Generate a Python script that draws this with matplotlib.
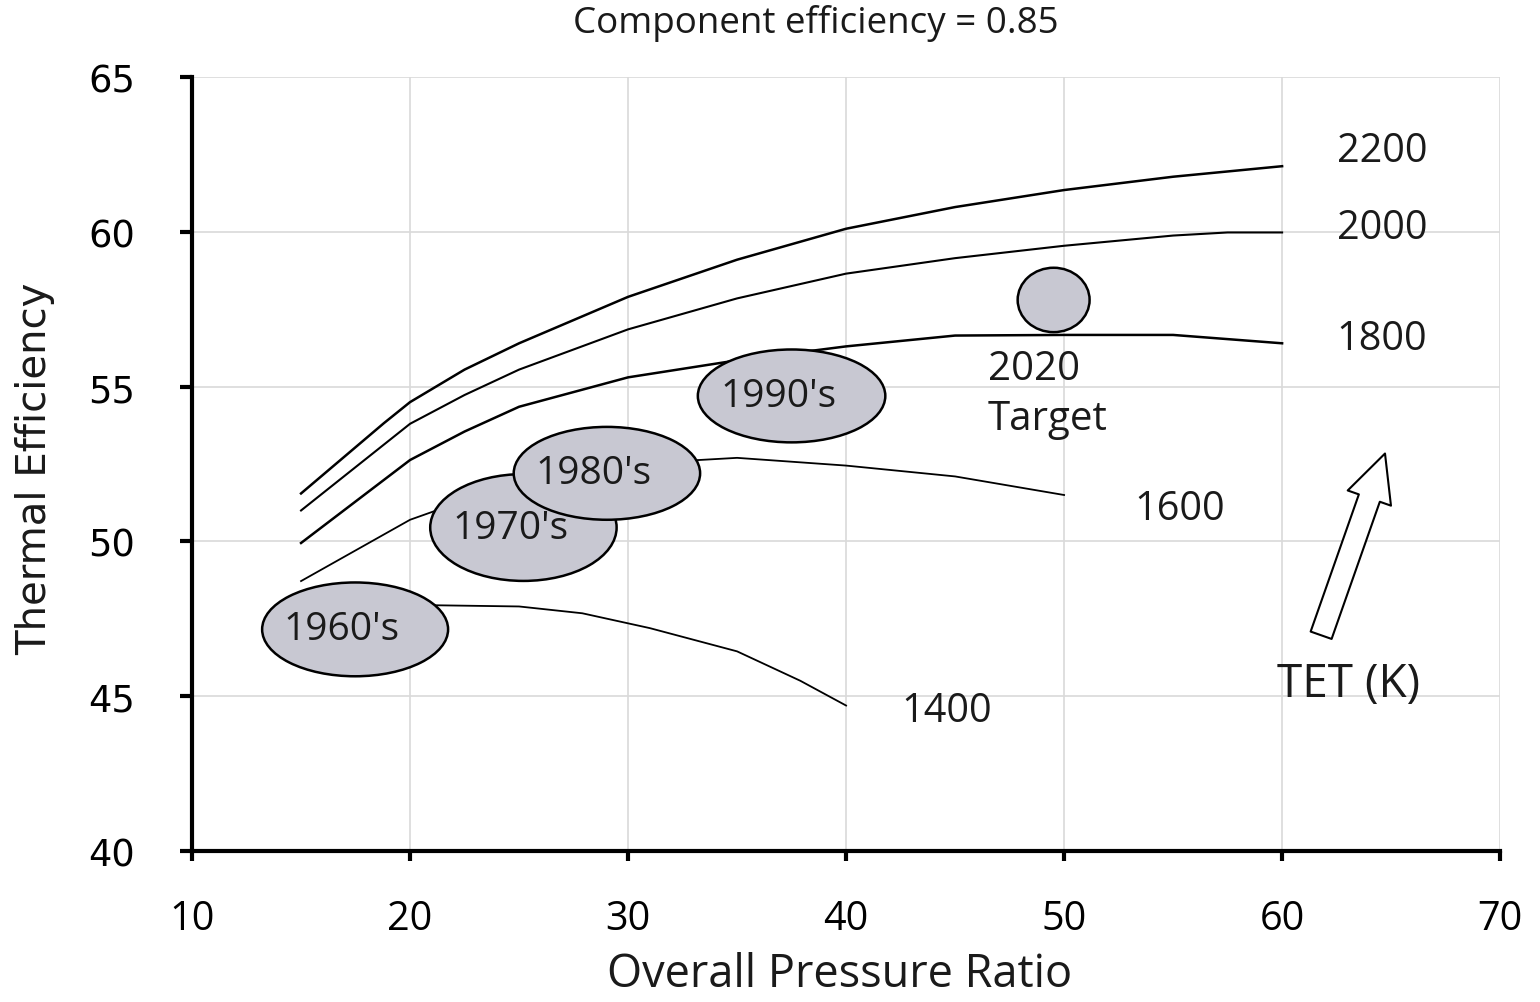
import matplotlib
matplotlib.use("Agg")
import matplotlib.pyplot as plt
from matplotlib.patches import Ellipse, ArrowStyle

plt.rcParams['font.family'] = ['Open Sans', 'DejaVu Sans']

# TET curves: overall pressure ratio vs thermal efficiency (%)
opr_2200 = [15, 18.8, 20, 22.5, 25, 30, 35, 40, 45, 50, 55, 60]
eff_2200 = [51.55, 53.82, 54.5, 55.55, 56.4, 57.9, 59.1, 60.1, 60.8, 61.35, 61.78, 62.12]

opr_2000 = [15, 20, 22.5, 25, 30, 35, 40, 45, 50, 55, 57.5, 60]
eff_2000 = [51.0, 53.8, 54.73, 55.55, 56.85, 57.85, 58.65, 59.15, 59.55, 59.88, 59.98, 59.98]

opr_1800 = [15, 20, 22.5, 25, 30, 35, 40, 45, 50, 55, 60]
eff_1800 = [49.95, 52.63, 53.55, 54.35, 55.3, 55.85, 56.3, 56.65, 56.67, 56.67, 56.4]

opr_1600 = [15, 20, 25, 30, 35, 40, 45, 50]
eff_1600 = [48.72, 50.7, 51.95, 52.5, 52.7, 52.45, 52.1, 51.5]

opr_1400 = [15, 20, 25, 27.9, 31, 35, 37.9, 40]
eff_1400 = [47.4, 47.95, 47.9, 47.68, 47.2, 46.45, 45.5, 44.7]

tet_labels = ["2200", "2000", "1800", "1600", "1400"]

# technology eras (ellipse centre, width, height)
era_labels = ["1960's", "1970's", "1980's", "1990's"]
era_x = [17.48, 25.2, 29.03, 37.5]
era_y = [47.16, 50.45, 52.2, 54.7]
era_w = [8.53, 8.55, 8.55, 8.6]
era_h = [3.03, 3.45, 3.0, 3.0]

target_x, target_y = 49.52, 57.8
target_w, target_h = 3.3, 2.08

fig = plt.figure(figsize=(15.4, 10.03), dpi=100)
ax = fig.add_axes([0.1247, 0.1505, 0.8494, 0.7717])

curves = [(opr_2200, eff_2200, 1.8), (opr_2000, eff_2000, 1.5),
          (opr_1800, eff_1800, 1.8), (opr_1600, eff_1600, 1.3),
          (opr_1400, eff_1400, 1.3)]
for x, y, lw in curves:
    ax.plot(x, y, color='black', lw=lw, zorder=2, solid_joinstyle='round')

face = '#c8c8d2'
for lab, cx, cy, w, h in zip(era_labels, era_x, era_y, era_w, era_h):
    ax.add_patch(Ellipse((cx, cy), w, h, facecolor=face, edgecolor='black',
                         lw=1.8, zorder=3))
    ax.text(cx - 0.6, cy, lab, fontsize=28, ha='center', va='center',
            color='#1a1a1a', zorder=4)

ax.add_patch(Ellipse((target_x, target_y), target_w, target_h, facecolor=face,
                     edgecolor='black', lw=1.8, zorder=3))
ax.text(46.5, 55.58, "2020", fontsize=29, ha='left', va='center', color='#1a1a1a')
ax.text(46.5, 53.97, "Target", fontsize=29, ha='left', va='center', color='#1a1a1a')

# curve labels
label_pos = [(64.59, 62.61), (64.59, 60.13), (64.59, 56.55), (55.32, 51.06), (44.63, 44.52)]
for lab, (lx, ly) in zip(tet_labels, label_pos):
    ax.text(lx, ly, lab, fontsize=28.5, ha='center', va='center', color='#1a1a1a')

# hollow arrow for increasing TET
ax.annotate('', xy=(64.72, 52.84), xytext=(61.79, 46.97),
            arrowprops=dict(arrowstyle=ArrowStyle.Simple(head_length=3.4, head_width=3.3,
                                                         tail_width=1.6),
                            mutation_scale=10, facecolor='white', edgecolor='black',
                            lw=1.5, shrinkA=0, shrinkB=0))
ax.text(63.03, 45.39, "TET (K)", fontsize=33, ha='center', va='center', color='#1a1a1a')

ax.set_xlim(10, 70)
ax.set_ylim(40, 65)
ax.set_xticks(range(10, 71, 10))
ax.set_yticks(range(40, 66, 5))
ax.grid(True, color='#d9d9d9', lw=1.2)
ax.set_axisbelow(True)

for s in ['top', 'right']:
    ax.spines[s].set_visible(False)
for s in ['left', 'bottom']:
    ax.spines[s].set_linewidth(3)

ax.tick_params(axis='x', direction='out', length=7, width=3, pad=27, labelsize=28.5)
ax.tick_params(axis='y', direction='out', length=9, width=3, pad=32, labelsize=26.5)
for t in ax.get_yticklabels():
    t.set_fontfamily('DejaVu Sans')

ax.text(0.495, -0.159, "Overall Pressure Ratio", transform=ax.transAxes, fontsize=32.5,
        ha='center', va='center', color='#1a1a1a')
ax.text(-0.12, 0.495, "Thermal Efficiency", transform=ax.transAxes, fontsize=29,
        rotation=90, ha='center', va='center', family='DejaVu Sans', color='#1a1a1a')
fig.text(0.53, 0.977, "Component efficiency = 0.85", fontsize=26.5, ha='center', va='center',
         color='#1a1a1a')

fig.savefig('out.png', dpi=100)
